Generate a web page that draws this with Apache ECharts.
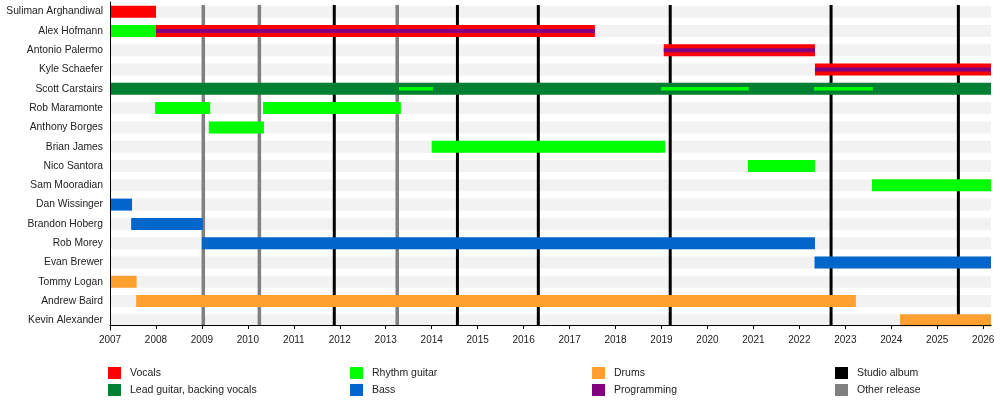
<!DOCTYPE html>
<html>
<head>
<meta charset="utf-8">
<script src="https://cdn.jsdelivr.net/npm/echarts@6/dist/echarts.min.js"></script>
<style>
  html, body { margin: 0; padding: 0; background: #fff; }
  #main { width: 1000px; height: 405px; }
</style>
</head>
<body>
<div id="main"></div>
<script>
// band members, top to bottom
var members = [
  'Suliman Arghandiwal', 'Alex Hofmann', 'Antonio Palermo', 'Kyle Schaefer',
  'Scott Carstairs', 'Rob Maramonte', 'Anthony Borges', 'Brian James',
  'Nico Santora', 'Sam Mooradian', 'Dan Wissinger', 'Brandon Hoberg',
  'Rob Morey', 'Evan Brewer', 'Tommy Logan', 'Andrew Baird', 'Kevin Alexander'
];

var START_YEAR = 2007;
var END_YEAR = 2026.17;
var yearTicks = [2007, 2008, 2009, 2010, 2011, 2012, 2013, 2014, 2015, 2016,
  2017, 2018, 2019, 2020, 2021, 2022, 2023, 2024, 2025, 2026];

// [member, from, to]
var vocals = [
  ['Suliman Arghandiwal', 2007, 2008.0],
  ['Alex Hofmann', 2008.0, 2017.55],
  ['Antonio Palermo', 2019.05, 2022.34],
  ['Kyle Schaefer', 2022.34, END_YEAR]
];
var leadGuitar = [
  ['Scott Carstairs', 2007, END_YEAR]
];
var rhythmGuitar = [
  ['Alex Hofmann', 2007, 2008.0],
  ['Rob Maramonte', 2007.98, 2009.18],
  ['Rob Maramonte', 2010.33, 2013.33],
  ['Anthony Borges', 2009.15, 2010.35],
  ['Brian James', 2014.0, 2019.08],
  ['Nico Santora', 2020.88, 2022.34],
  ['Sam Mooradian', 2023.58, END_YEAR]
];
// rhythm guitar as a second role (drawn thin over the main bar)
var rhythmGuitarSecond = [
  ['Scott Carstairs', 2013.29, 2014.03],
  ['Scott Carstairs', 2018.99, 2020.9],
  ['Scott Carstairs', 2022.32, 2023.6]
];
var bass = [
  ['Dan Wissinger', 2007, 2007.48],
  ['Brandon Hoberg', 2007.46, 2009.02],
  ['Rob Morey', 2009.0, 2022.34],
  ['Evan Brewer', 2022.33, END_YEAR]
];
var drums = [
  ['Tommy Logan', 2007, 2007.58],
  ['Andrew Baird', 2007.57, 2023.23],
  ['Kevin Alexander', 2024.19, END_YEAR]
];
var programming = [
  ['Alex Hofmann', 2008.0, 2017.55],
  ['Antonio Palermo', 2019.05, 2022.34],
  ['Kyle Schaefer', 2022.34, END_YEAR]
];
var studioAlbums = [2011.88, 2014.56, 2016.32, 2019.19, 2022.69, 2025.46];
var otherReleases = [2009.03, 2010.25, 2013.25];

var FONT = 'Liberation Sans, Arial, Helvetica, sans-serif';
var chart = echarts.init(document.getElementById('main'));

function barRenderer(h) {
  return function (params, api) {
    var row = api.value(0);
    var s = api.coord([api.value(1), row]);
    var e = api.coord([api.value(2), row]);
    return {
      type: 'rect',
      shape: { x: s[0], y: s[1] - h / 2, width: e[0] - s[0], height: h },
      style: { fill: api.visual('color') }
    };
  };
}

function stripeRenderer(params, api) {
  var cs = params.coordSys;
  var c = api.coord([START_YEAR, api.value(0)]);
  return {
    type: 'rect',
    shape: { x: cs.x, y: c[1] - 6, width: cs.width, height: 12 },
    style: { fill: '#f2f2f2' }
  };
}

function lineRenderer(w) {
  return function (params, api) {
    var cs = params.coordSys;
    var p = api.coord([api.value(0), 0]);
    return {
      type: 'line',
      shape: { x1: p[0], y1: cs.y + 3, x2: p[0], y2: cs.y + cs.height - 5 },
      style: { stroke: api.visual('color'), lineWidth: w }
    };
  };
}

function barSeries(name, color, data, h, z) {
  return {
    name: name,
    type: 'custom',
    renderItem: barRenderer(h),
    itemStyle: { color: color },
    encode: { x: [1, 2], y: 0 },
    data: data,
    z: z,
    silent: true
  };
}

function lineSeries(name, color, values, w) {
  return {
    name: name,
    type: 'custom',
    renderItem: lineRenderer(w),
    itemStyle: { color: color },
    encode: { x: 0 },
    data: values.map(function (v) { return [v]; }),
    z: 2,
    silent: true
  };
}

function legendCol(left, names) {
  return {
    data: names,
    orient: 'vertical',
    left: left,
    top: 367,
    padding: 0,
    itemWidth: 13,
    itemHeight: 12,
    itemGap: 5,
    icon: 'rect',
    selectedMode: false,
    textStyle: { fontFamily: FONT, fontSize: 10.5, color: '#222', padding: [0, 0, 0, 4] }
  };
}

chart.setOption({
  animation: false,
  grid: { left: 110, right: 9, top: 2, bottom: 75, containLabel: false, outerBoundsMode: 'none' },
  xAxis: {
    type: 'value',
    min: START_YEAR,
    max: END_YEAR,
    interval: 1,
    offset: -5,
    z: 6,
    splitLine: { show: false },
    axisLine: { show: true, lineStyle: { color: '#000', width: 1 } },
    axisTick: { show: true, length: 4, customValues: yearTicks, lineStyle: { color: '#000' } },
    axisLabel: {
      customValues: yearTicks,
      margin: 10,
      fontFamily: FONT, fontSize: 10, color: '#222',
      formatter: function (v) { return String(v); }
    }
  },
  yAxis: {
    type: 'category',
    inverse: true,
    data: members,
    z: 6,
    axisLine: { show: true, lineStyle: { color: '#000', width: 1 } },
    axisTick: { show: false },
    splitLine: { show: false },
    axisLabel: { margin: 7, fontFamily: FONT, fontSize: 10.3, color: '#222' }
  },
  legend: [
    legendCol(108, ['Vocals', 'Lead guitar, backing vocals']),
    legendCol(350, ['Rhythm guitar', 'Bass']),
    legendCol(592, ['Drums', 'Programming']),
    legendCol(835, ['Studio album', 'Other release'])
  ],
  series: [
    {
      name: 'rows',
      type: 'custom',
      renderItem: stripeRenderer,
      encode: { y: 0 },
      data: members.map(function (m) { return [m]; }),
      z: 1,
      silent: true
    },
    lineSeries('Studio album', '#000000', studioAlbums, 3),
    lineSeries('Other release', '#808080', otherReleases, 3.5),
    barSeries('Vocals', '#ff0000', vocals, 12, 3),
    barSeries('Lead guitar, backing vocals', '#008033', leadGuitar, 12, 3),
    barSeries('Rhythm guitar', '#00ff00', rhythmGuitar, 12, 3),
    barSeries('Bass', '#0066cc', bass, 12, 3),
    barSeries('Drums', '#ffa030', drums, 12, 3),
    barSeries('Programming', '#800080', programming, 4, 4),
    barSeries('Rhythm guitar', '#00ff00', rhythmGuitarSecond, 3.5, 4)
  ]
});
</script>
</body>
</html>
